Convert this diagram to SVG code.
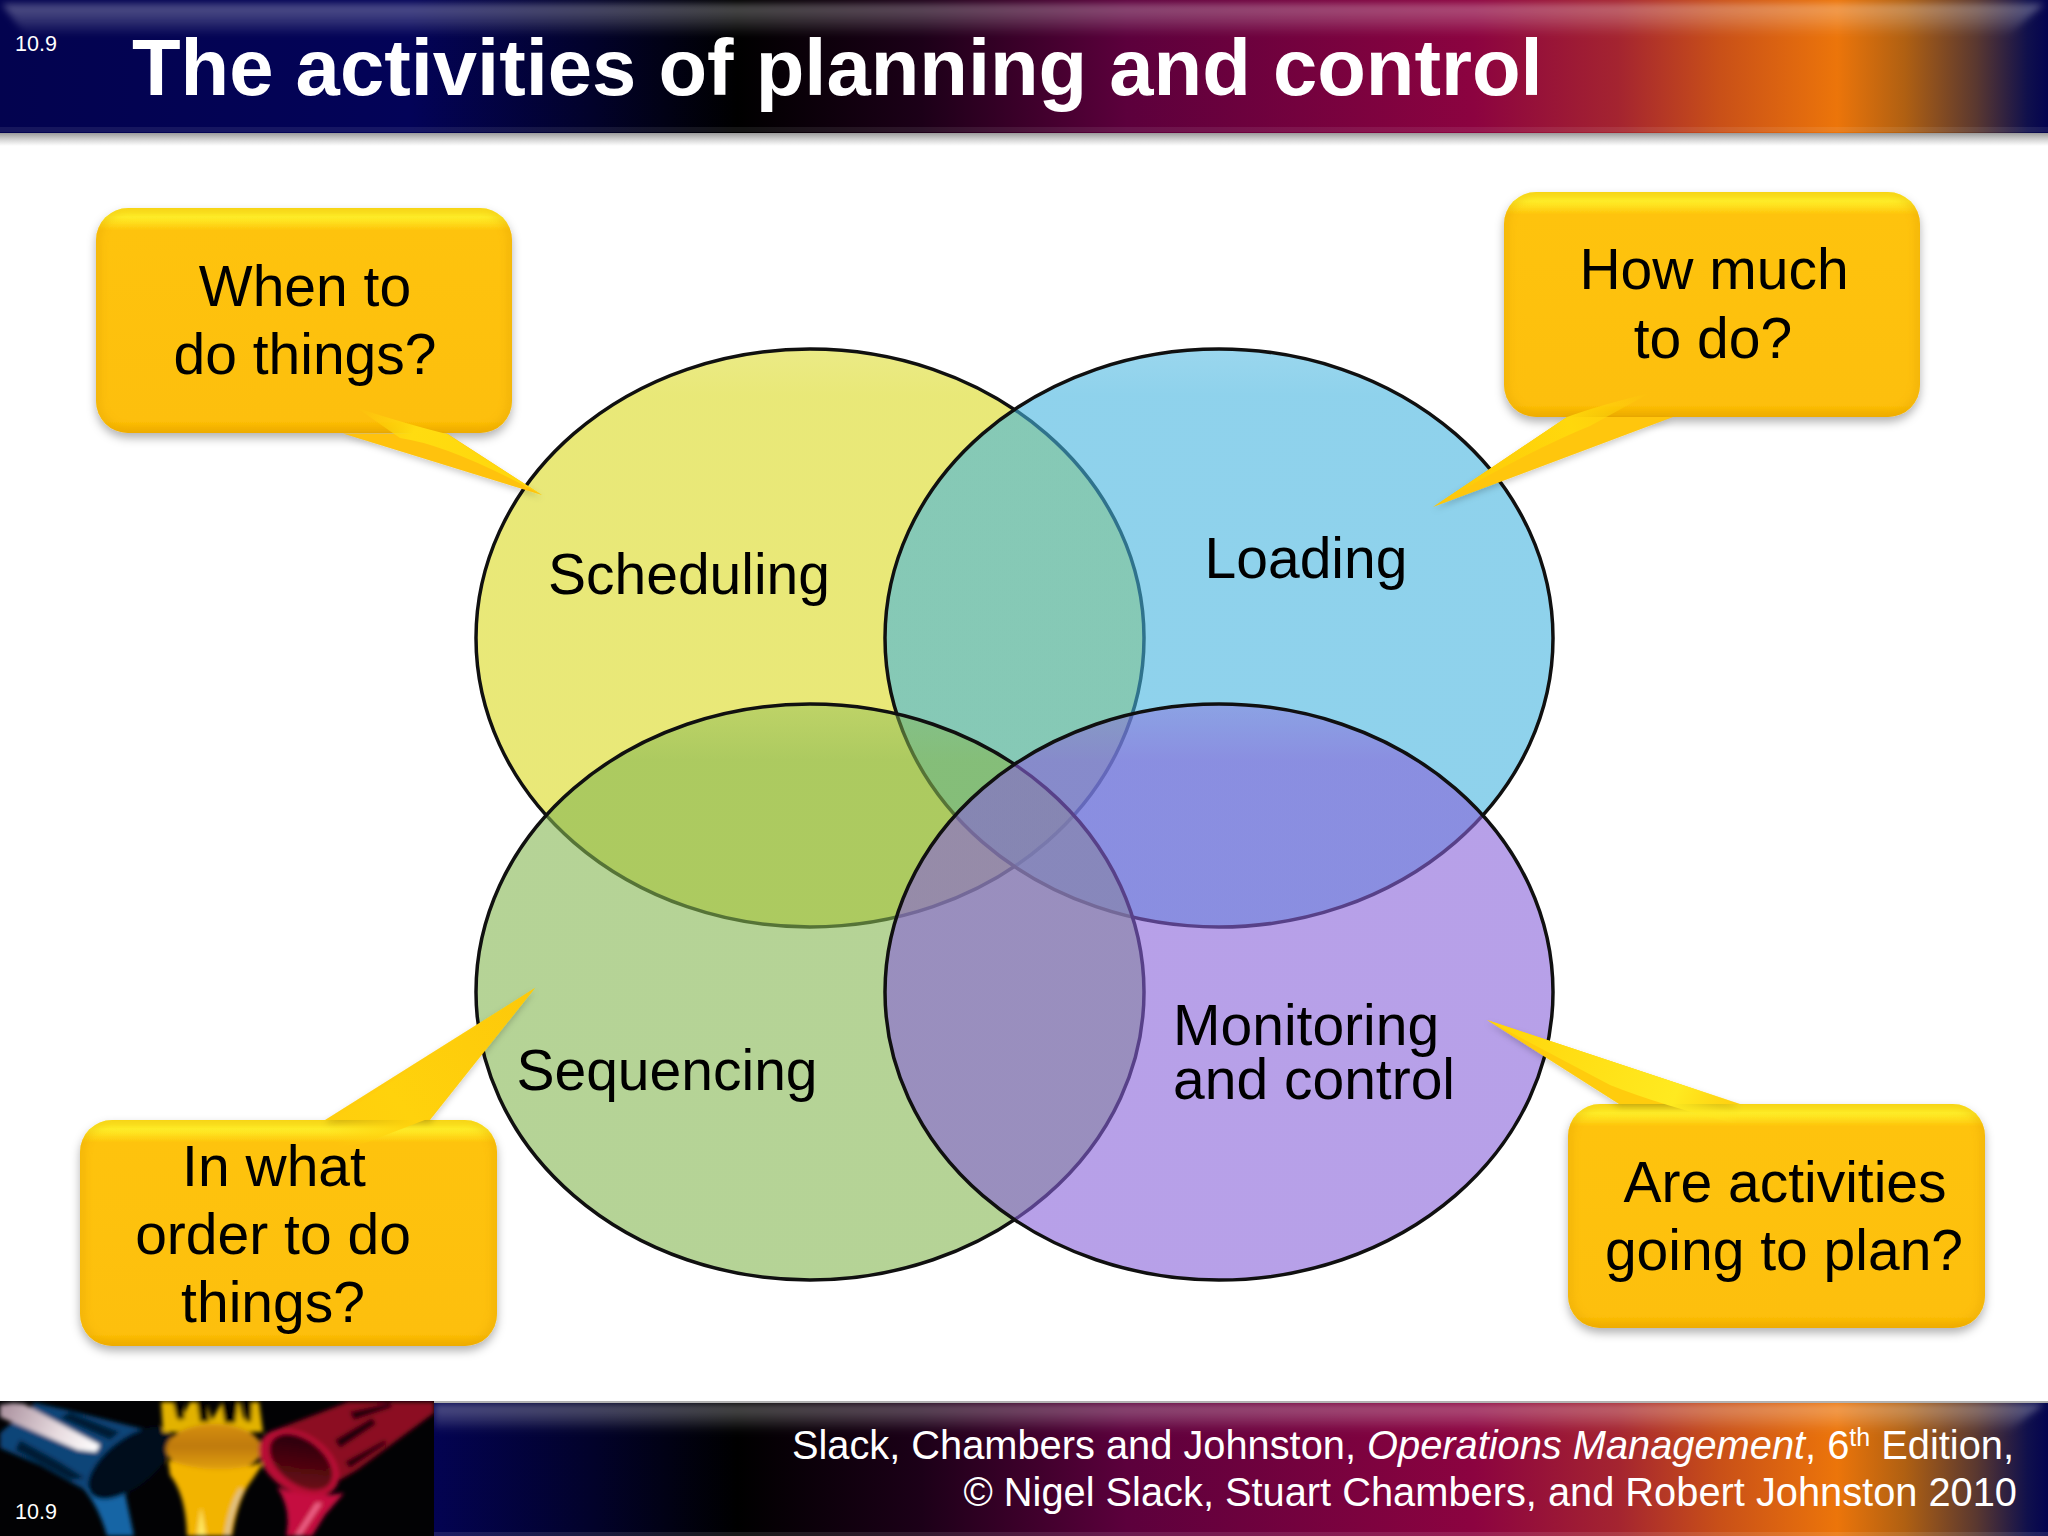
<svg xmlns="http://www.w3.org/2000/svg" width="2048" height="1536" viewBox="0 0 2048 1536">
<style>
text{font-family:"Liberation Sans",Arial,sans-serif}
.lbl{font-size:57px;fill:#000;text-anchor:middle}
.lbl-l{font-size:57px;fill:#000}
.num{font-size:21.5px;fill:#fff}
.foot{font-size:39.8px;fill:#fff;text-anchor:end}
.body{fill:url(#gold);filter:url(#shadow)}
.edge{fill:none;stroke:#e0a000;stroke-width:8;filter:url(#b4);opacity:.4}
.ell{stroke:#101010;stroke-width:3.5}
</style>
<defs>
<linearGradient id="bar" gradientUnits="userSpaceOnUse" x1="0" y1="0" x2="2048" y2="0">
<stop offset="0" stop-color="#03034f"/><stop offset=".2" stop-color="#030358"/><stop offset=".29" stop-color="#02022a"/><stop offset=".36" stop-color="#000"/><stop offset=".45" stop-color="#1c0018"/><stop offset=".55" stop-color="#5c003c"/><stop offset=".72" stop-color="#8c0340"/><stop offset=".79" stop-color="#a42430"/><stop offset=".84" stop-color="#c95018"/><stop offset=".897" stop-color="#ec750a"/><stop offset=".93" stop-color="#b06012"/><stop offset=".965" stop-color="#5a3830"/><stop offset=".99" stop-color="#10104c"/><stop offset="1" stop-color="#03034f"/>
</linearGradient>
<linearGradient id="sheen" x1="0" y1="0" x2="0" y2="1">
<stop offset="0" stop-color="#fff" stop-opacity=".32"/><stop offset=".45" stop-color="#fff" stop-opacity=".2"/><stop offset="1" stop-color="#fff" stop-opacity="0"/>
</linearGradient>
<linearGradient id="shade" x1="0" y1="0" x2="0" y2="1">
<stop offset="0" stop-color="#777" stop-opacity=".75"/><stop offset="1" stop-color="#999" stop-opacity="0"/>
</linearGradient>
<linearGradient id="gold" x1="0" y1="0" x2="0" y2="1">
<stop offset="0" stop-color="#ffe81e"/><stop offset=".04" stop-color="#fff02a"/><stop offset=".1" stop-color="#fec30a"/><stop offset=".95" stop-color="#fdbf07"/><stop offset="1" stop-color="#f4b000"/>
</linearGradient>
<linearGradient id="tailA" gradientUnits="userSpaceOnUse" x1="357" y1="408" x2="542" y2="495"><stop offset="0" stop-color="#ffd60c" stop-opacity="0"/><stop offset=".3" stop-color="#ffdc10"/><stop offset="1" stop-color="#ffd60c"/></linearGradient>
<linearGradient id="tailB" gradientUnits="userSpaceOnUse" x1="1650" y1="393" x2="1433" y2="507"><stop offset="0" stop-color="#ffd80c" stop-opacity="0"/><stop offset=".35" stop-color="#ffd80c"/><stop offset="1" stop-color="#fdc808"/></linearGradient>
<linearGradient id="tailC" gradientUnits="userSpaceOnUse" x1="1737" y1="1123" x2="1487" y2="1020"><stop offset="0" stop-color="#ffe820" stop-opacity="0"/><stop offset=".25" stop-color="#ffea20"/><stop offset="1" stop-color="#ffd40a"/></linearGradient>
<linearGradient id="tailD" gradientUnits="userSpaceOnUse" x1="340" y1="1150" x2="535" y2="988"><stop offset="0" stop-color="#ffd20c" stop-opacity="0"/><stop offset=".3" stop-color="#ffd20c"/><stop offset="1" stop-color="#fdc80a"/></linearGradient>
<linearGradient id="fS" x1="0" y1="0" x2="0" y2="1"><stop offset="0" stop-color="#dad91e" stop-opacity=".54"/><stop offset=".08" stop-color="#dad91e" stop-opacity=".6"/></linearGradient>
<linearGradient id="fL" x1="0" y1="0" x2="0" y2="1"><stop offset="0" stop-color="#44b4df" stop-opacity=".54"/><stop offset=".08" stop-color="#44b4df" stop-opacity=".6"/></linearGradient>
<linearGradient id="fQ" x1="0" y1="0" x2="0" y2="1"><stop offset="0" stop-color="#84b650" stop-opacity=".42"/><stop offset=".1" stop-color="#84b650" stop-opacity=".6"/></linearGradient>
<linearGradient id="fM" x1="0" y1="0" x2="0" y2="1"><stop offset="0" stop-color="#8761d9" stop-opacity=".42"/><stop offset=".1" stop-color="#8761d9" stop-opacity=".6"/></linearGradient>
<linearGradient id="streak" gradientUnits="userSpaceOnUse" x1="0" y1="1405" x2="98" y2="1450"><stop offset="0" stop-color="#a88e9c"/><stop offset=".6" stop-color="#e8dce0"/><stop offset="1" stop-color="#fff"/></linearGradient>
<linearGradient id="cup" x1="0" y1="0" x2="0" y2="1"><stop offset="0" stop-color="#d68f0c"/><stop offset=".45" stop-color="#bf7a10"/><stop offset="1" stop-color="#e8a808"/></linearGradient>
<linearGradient id="rim" x1="0" y1="0" x2="1" y2="1"><stop offset="0" stop-color="#1a0206"/><stop offset="1" stop-color="#7a0a18"/></linearGradient>
<filter id="shadow" x="-10%" y="-10%" width="120%" height="125%"><feDropShadow dx="0" dy="5" stdDeviation="5" flood-color="#000" flood-opacity=".3"/></filter>
<filter id="tailShadow" x="-10%" y="-10%" width="120%" height="125%"><feDropShadow dx="0" dy="3" stdDeviation="3" flood-color="#000" flood-opacity=".2"/></filter>
<filter id="b2"><feGaussianBlur stdDeviation="2"/></filter>
<filter id="b3" x="-5%" y="-60%" width="110%" height="220%"><feGaussianBlur stdDeviation="3.5"/></filter>
<filter id="b4"><feGaussianBlur stdDeviation="4"/></filter>
<clipPath id="clipArt"><rect x="0" y="1401" width="434" height="135"/></clipPath>
<clipPath id="c1"><rect x="96" y="208" width="416" height="225" rx="32"/></clipPath>
<clipPath id="c2"><rect x="1504" y="192" width="416" height="225" rx="32"/></clipPath>
<clipPath id="c3"><rect x="1568" y="1104" width="417" height="224" rx="32"/></clipPath>
<clipPath id="c4"><rect x="80" y="1120" width="417" height="226" rx="32"/></clipPath>
</defs>
<rect width="2048" height="1536" fill="#fff"/>

<g id="header">
<rect x="0" y="133" width="2048" height="13" fill="url(#shade)"/>
<rect x="0" y="0" width="2048" height="133" fill="url(#bar)"/>
<polygon points="2,4 2044,4 2008,36 26,36" fill="url(#sheen)" filter="url(#b3)"/>
<rect x="0" y="127" width="2048" height="5" fill="#fff" opacity=".08"/>
<text x="15" y="51" class="num">10.9</text>
<text x="132" y="95" font-size="79.6" font-weight="700" fill="#fff">The activities of planning and control</text>
</g>

<g id="footer">
<rect x="434" y="1401" width="1614" height="135" fill="url(#bar)"/>
<rect x="0" y="1401" width="2048" height="2" fill="#aaa"/>
<polygon points="434,1404 2044,1404 2008,1432 434,1432" fill="url(#sheen)" filter="url(#b3)"/>
<rect x="434" y="1532" width="1614" height="4" fill="#fff" opacity=".1"/>
<g clip-path="url(#clipArt)">
<rect x="0" y="1401" width="434" height="135" fill="#020204"/>
<g filter="url(#b2)">
<path d="M0 1433 L35 1403 L67 1410 L147 1430 L170 1437 L110 1490 L85 1490 L40 1465 L0 1448Z" fill="#0c4478"/>
<path d="M20 1440 L60 1462 L85 1478 L70 1480 L15 1450Z M70 1412 L120 1432 L110 1440 L60 1418Z" fill="#061c36"/>
<path d="M85 1488 L125 1493 L134 1536 L107 1536 Q100 1510 85 1490Z" fill="#1465a5"/>
<ellipse cx="130" cy="1463" rx="50" ry="24" transform="rotate(-38 130 1463)" fill="#040a1c"/>
<path d="M13 1403 L24 1404 L100 1445 L96 1452 L78 1450 L0 1417 L0 1405Z" fill="url(#streak)"/>
<path d="M161 1402 L173 1402 L180 1421 L190 1402 L207 1402 L212 1420 L222 1402 L240 1402 L244 1420 L252 1402 L259 1402 L263 1432 L163 1432Z" fill="#e2b200"/>
<path d="M173 1402 h9 l3 17 h-8Z M197 1402 h11 l1 20 h-9Z M221 1402 h17 l-3 21 h-10Z M244 1402 h8 l-1 20 h-5Z" fill="#050505"/>
<ellipse cx="214" cy="1449" rx="48" ry="25" fill="url(#cup)"/>
<path d="M168 1460 Q214 1478 264 1462 L252 1480 Q238 1498 232 1536 L187 1536 Q186 1495 170 1475Z" fill="#f2b400"/>
<path d="M201 1507 L206 1536 L197 1536Z" fill="#ffe860"/>
<path d="M243 1490 Q232 1510 229 1536 L225 1536 Q228 1508 240 1488Z" fill="#d8c498"/>
<path d="M264 1436 L280 1428 L348 1402 L434 1402 L434 1413 L357 1470 L340 1480 Z" fill="#8c0820"/>
<path d="M335 1440 L372 1418 L376 1424 L340 1448Z M345 1462 L385 1440 L386 1444 L350 1468Z M350 1412 L390 1403 L392 1407 L354 1420Z" fill="#1c0208"/>
<ellipse cx="299" cy="1463" rx="44" ry="29" transform="rotate(33 299 1463)" fill="#b80e36"/>
<ellipse cx="301" cy="1462" rx="36" ry="22" transform="rotate(38 301 1462)" fill="url(#rim)"/>
<path d="M277 1487 Q310 1500 344 1493 L325 1515 L312 1536 L286 1536 Q292 1510 277 1487Z" fill="#c5103f"/>
<path d="M322 1503 L300 1536 L295 1536 L316 1503Z" fill="#f0658a"/>
</g>
<text x="15" y="1519" class="num">10.9</text>
</g>
<text x="2014" y="1459" class="foot">Slack, Chambers and Johnston, <tspan font-style="italic">Operations Management</tspan>, 6<tspan font-size="25" dy="-13">th</tspan><tspan dy="13"> Edition,</tspan></text>
<text x="2017" y="1506" class="foot">© Nigel Slack, Stuart Chambers, and Robert Johnston 2010</text>
</g>

<g id="scheduling"><ellipse class="ell" cx="810" cy="638" rx="334" ry="289" fill="url(#fS)"/><text x="689" y="594" class="lbl">Scheduling</text></g>
<g id="loading"><ellipse class="ell" cx="1219" cy="638" rx="334" ry="289" fill="url(#fL)"/><text x="1306" y="578" class="lbl">Loading</text></g>
<g id="sequencing"><ellipse class="ell" cx="810" cy="992" rx="334" ry="288" fill="url(#fQ)"/><text x="667" y="1090" class="lbl">Sequencing</text></g>
<g id="monitoring"><ellipse class="ell" cx="1219" cy="992" rx="334" ry="288" fill="url(#fM)"/><text x="1173" y="1045" class="lbl-l">Monitoring</text><text x="1173" y="1099" class="lbl-l">and control</text></g>

<g id="callout-when"><rect class="body" x="96" y="208" width="416" height="225" rx="32"/><g clip-path="url(#c1)"><rect class="edge" x="96" y="208" width="416" height="225" rx="32"/></g><text x="305" y="306" class="lbl">When to</text><text x="305" y="374" class="lbl">do things?</text></g>
<g id="callout-howmuch"><rect class="body" x="1504" y="192" width="416" height="225" rx="32"/><g clip-path="url(#c2)"><rect class="edge" x="1504" y="192" width="416" height="225" rx="32"/></g><text x="1714" y="289" class="lbl">How much</text><text x="1713" y="358" class="lbl">to do?</text></g>
<g id="callout-plan"><rect class="body" x="1568" y="1104" width="417" height="224" rx="32"/><g clip-path="url(#c3)"><rect class="edge" x="1568" y="1104" width="417" height="224" rx="32"/></g><text x="1785" y="1202" class="lbl">Are activities</text><text x="1784" y="1270" class="lbl">going to plan?</text></g>
<g id="callout-order"><rect class="body" x="80" y="1120" width="417" height="226" rx="32"/><g clip-path="url(#c4)"><rect class="edge" x="80" y="1120" width="417" height="226" rx="32"/></g><text x="274" y="1186" class="lbl">In what</text><text x="273" y="1254" class="lbl">order to do</text><text x="273" y="1322" class="lbl">things?</text></g>

<g id="connectors">
<path d="M343 433.500 L542 495 L447 433.500Z" fill="#ffc20a" filter="url(#tailShadow)"/>
<path d="M357 408 Q410 425 447 434 L542 495 Q450 445 400 438 Z" fill="url(#tailA)"/>
<path d="M1567 417 L1433 507 L1673 417Z" fill="#ffc60a" filter="url(#tailShadow)"/>
<path d="M1650 393 Q1600 405 1567 417 L1433 507 Q1530 450 1590 426Z" fill="url(#tailB)"/>
<path d="M1619 1104 L1487 1020 L1740 1104Z" fill="#ffcc0a" filter="url(#tailShadow)"/>
<path d="M1487 1020 L1740 1104 L1737 1124 Q1660 1105 1610 1085Z" fill="url(#tailC)"/>
<path d="M325 1120 L535 988 L430 1120Z" fill="#ffce0a" filter="url(#tailShadow)"/>
<path d="M330 1122 L535 988 L430 1118 L365 1143 Q345 1145 330 1150Z" fill="url(#tailD)"/>
</g>
</svg>
